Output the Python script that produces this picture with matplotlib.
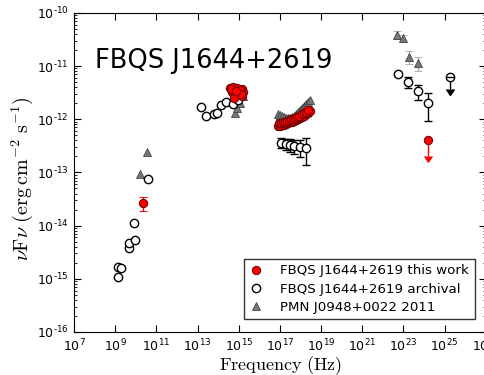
import numpy as np
import matplotlib
matplotlib.use("Agg")
import matplotlib.pyplot as plt
from matplotlib.ticker import FixedLocator, LogLocator, FuncFormatter, NullFormatter

plt.rcParams["mathtext.fontset"] = "cm"

# --- FBQS J1644+2619, this work (log10 nu [Hz], log10 nuFnu [erg/cm2/s]) ---
tw_radio_lx = [10.35]
tw_radio_ly = [-13.57]
tw_radio_err = [0.8e-14]

tw_opt_lx = [14.57, 14.72, 14.91, 15.16, 15.20, 14.67, 14.82, 14.96, 15.16, 14.77,
             14.62, 15.05, 15.10, 14.88]
tw_opt_ly = [-11.41, -11.39, -11.41, -11.43, -11.48, -11.48, -11.50, -11.54, -11.56, -11.60,
             -11.44, -11.45, -11.52, -11.46]

tw_x_lx = [16.90, 17.00, 17.10, 17.19, 17.29, 17.39, 17.49, 17.58, 17.68, 17.78,
           17.87, 17.97, 18.07, 18.17, 18.26, 18.36, 18.46,
           16.95, 17.05, 17.15, 17.25, 17.35, 17.45, 17.55, 17.65, 17.75,
           17.85, 17.95, 18.05, 18.15, 18.25, 18.35]
tw_x_ly = [-12.12, -12.12, -12.11, -12.11, -12.09, -12.07, -12.05, -12.05, -12.03, -12.01,
           -11.99, -11.97, -11.95, -11.94, -11.90, -11.88, -11.84,
           -12.08, -12.07, -12.06, -12.05, -12.04, -12.02, -12.00, -11.99, -11.97,
           -11.95, -11.93, -11.91, -11.89, -11.86, -11.83]

tw_ul_lx = [24.18]
tw_ul_ly = [-12.39]

# --- FBQS J1644+2619, archival ---
ar_radio_lx = [9.14, 9.14, 9.28, 9.67, 9.67, 9.96, 9.91, 10.59]
ar_radio_ly = [-14.96, -14.77, -14.79, -14.42, -14.32, -14.27, -13.95, -13.12]

ar_opt_lx = [13.17, 13.41, 13.80, 13.94, 14.14, 14.38, 14.72, 14.96]
ar_opt_ly = [-11.77, -11.94, -11.90, -11.88, -11.73, -11.67, -11.71, -11.64]

ar_x_lx = [17.05, 17.29, 17.49, 17.68, 17.97, 18.26]
ar_x_ly = [-12.44, -12.46, -12.48, -12.50, -12.52, -12.54]
ar_x_err = [0.8e-13, 0.8e-13, 0.9e-13, 0.9e-13, 1.1e-13, 1.5e-13]

ar_g_lx = [22.73, 23.21, 23.70, 24.18]
ar_g_ly = [-11.15, -11.30, -11.47, -11.69]
ar_g_err = [0.6e-12, 1.2e-12, 1.1e-12, 1.1e-12]

ar_ul_lx = [25.25]
ar_ul_ly = [-11.20]

# --- PMN J0948+0022, 2011 ---
pmn_radio_lx = [10.20, 10.54]
pmn_radio_ly = [-13.03, -12.61]

pmn_opt_lx = [14.82, 14.91, 14.96, 15.06, 15.20]
pmn_opt_ly = [-11.88, -11.79, -11.64, -11.69, -11.56]

pmn_x_lx = [16.90, 17.00, 17.10, 17.19, 17.29, 17.39, 17.49, 17.58, 17.68, 17.78,
            17.87, 17.97, 18.07, 18.17, 18.26, 18.36, 18.46]
pmn_x_ly = [-11.90, -11.92, -11.94, -11.96, -11.97, -11.97, -11.97, -11.96, -11.94, -11.90,
            -11.86, -11.82, -11.79, -11.75, -11.71, -11.68, -11.64]

pmn_g_lx = [22.68, 22.97, 23.26, 23.70]
pmn_g_ly = [-10.41, -10.47, -10.83, -10.94]
pmn_g_err = [0.6e-11, 0.5e-11, 0.4e-11, 0.35e-11]

x_tick_exp = list(range(7, 28, 2))


def lin(a):
    return 10.0 ** np.asarray(a)


fig = plt.figure(figsize=(4.85, 3.75), dpi=100)
ax = fig.add_axes([0.1526, 0.1147, 0.849, 0.851])

gray = "#777777"
ms = 6.0

# PMN J0948+0022 (drawn underneath)
tri = dict(color=gray, mec="#444444", mew=0.6, ms=ms, ls="none")
ax.plot(lin(pmn_radio_lx), lin(pmn_radio_ly), "^", **tri)
ax.plot(lin(pmn_opt_lx), lin(pmn_opt_ly), "^", **tri)
ax.plot(lin(pmn_x_lx), lin(pmn_x_ly), "^", **tri)
ax.errorbar(lin(pmn_g_lx), lin(pmn_g_ly), yerr=pmn_g_err, fmt="^", ecolor="#aaaaaa",
            elinewidth=1, capsize=3, **tri)

# archival
ocirc = dict(fmt="o", color="black", mfc="white", mec="black", mew=1.0, ms=ms,
             ecolor="black", elinewidth=1, capsize=3, zorder=3)
ax.plot(lin(ar_radio_lx), lin(ar_radio_ly), "o", mfc="white", mec="black", mew=1.0, ms=ms)
ax.plot(lin(ar_opt_lx), lin(ar_opt_ly), "o", mfc="white", mec="black", mew=1.0, ms=ms)
ax.errorbar(lin(ar_x_lx), lin(ar_x_ly), yerr=ar_x_err, **ocirc)
ax.errorbar(lin(ar_g_lx), lin(ar_g_ly), yerr=ar_g_err, **ocirc)
ul_y = lin(ar_ul_ly)
ax.errorbar(lin(ar_ul_lx), ul_y, yerr=ul_y * 0.42, uplims=True, **ocirc)
ax.plot(lin(ar_ul_lx), ul_y, "_", color="black", ms=ms, mew=1.0, zorder=4)

# this work
rcirc = dict(color="red", mfc="red", mec="#660000", mew=0.7, ms=ms, zorder=4)
ax.errorbar(lin(tw_radio_lx), lin(tw_radio_ly), yerr=tw_radio_err, fmt="o",
            ecolor="red", elinewidth=1, capsize=3, **rcirc)
ax.plot(lin(tw_opt_lx), lin(tw_opt_ly), "o", ls="none", **rcirc)
ax.plot(lin(tw_x_lx), lin(tw_x_ly), "o", ls="none", **rcirc)
tul_y = lin(tw_ul_ly)
ax.errorbar(lin(tw_ul_lx), tul_y, yerr=tul_y * 0.5, uplims=True, fmt="o",
            ecolor="red", elinewidth=1, capsize=3, **rcirc)

# legend proxies
h1, = ax.plot([], [], "o", mfc="red", mec="#660000", mew=0.7, ms=ms)
h2, = ax.plot([], [], "o", mfc="white", mec="black", mew=1.0, ms=ms)
h3, = ax.plot([], [], "^", color=gray, mec="#444444", mew=0.6, ms=ms)
leg = ax.legend([h1, h2, h3],
                ["FBQS J1644+2619 this work", "FBQS J1644+2619 archival",
                 "PMN J0948+0022 2011"],
                loc="lower right", bbox_to_anchor=(0.973, 0.04), fontsize=9.6,
                frameon=True, fancybox=False, numpoints=1, handlelength=1.0,
                borderpad=0.4, labelspacing=0.4, handletextpad=1.3,
                borderaxespad=0.0)
leg.get_frame().set_edgecolor("black")
leg.get_frame().set_linewidth(1.0)

ax.set_xscale("log")
ax.set_yscale("log")
ax.set_xlim(1e7, 1e27)
ax.set_ylim(1e-16, 1e-10)

ax.xaxis.set_major_locator(FixedLocator(lin(x_tick_exp)))
ax.xaxis.set_minor_locator(FixedLocator([]))
ax.yaxis.set_major_locator(LogLocator(base=10.0, numticks=10))
ax.yaxis.set_minor_locator(LogLocator(base=10.0, subs=np.arange(2, 10), numticks=100))


def fmt(v, pos):
    # short hyphen in the exponent instead of the wide math minus
    exp = str(int(round(np.log10(v)))).replace("-", "\u2010")
    return "$\\mathdefault{10^{%s}}$" % exp


ax.xaxis.set_major_formatter(FuncFormatter(fmt))
ax.yaxis.set_major_formatter(FuncFormatter(fmt))
ax.yaxis.set_minor_formatter(NullFormatter())
ax.tick_params(which="both", direction="in", top=True, right=True, labelsize=9)
ax.tick_params(which="major", length=5, pad=4)
ax.tick_params(which="minor", length=2.5)

ax.set_xlabel(r"$\mathrm{Frequency\ (Hz)}$", fontsize=13)
ax.xaxis.set_label_coords(0.501, -0.069)
ax.set_ylabel(r"$\nu\mathrm{F}\nu\ \mathrm{(erg\,cm^{-2}\ s^{-1})}$", fontsize=14.5)
ax.yaxis.set_label_coords(-0.095, 0.48)

ax.text(0.052, 0.85, "FBQS J1644+2619", transform=ax.transAxes, fontsize=18.5,
        family="DejaVu Sans", ha="left", va="center")

fig.savefig("out.png", dpi=100)
